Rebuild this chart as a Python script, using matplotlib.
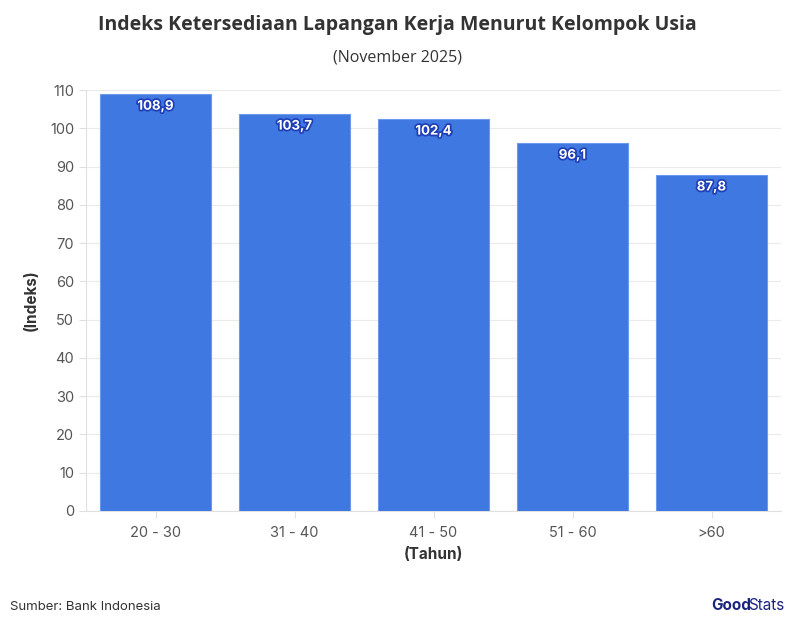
import matplotlib
matplotlib.use("Agg")
import matplotlib.pyplot as plt
import matplotlib.patheffects as pe

# data
kelompok = ["20 - 30", "31 - 40", "41 - 50", "51 - 60", ">60"]
indeks = [108.9, 103.7, 102.4, 96.1, 87.8]
label_teks = ["108,9", "103,7", "102,4", "96,1", "87,8"]
yticks = list(range(0, 111, 10))

plt.rcParams['font.family'] = ['Inter', 'DejaVu Sans']

fig = plt.figure(figsize=(7.95, 6.37), dpi=100)
ax = fig.add_axes([86/795, 1 - 511/637, 695/795, 421/637])

x = range(len(kelompok))
bars = ax.bar(x, indeks, width=0.805, color="#3f78e0", edgecolor="#6d99ea",
              linewidth=0.8, zorder=3)

for b, t in zip(bars, label_teks):
    ax.annotate(t, (b.get_x() + b.get_width()/2, b.get_height()),
                xytext=(0, -9), textcoords="offset points", ha="center", va="center",
                color="white", fontsize=9.5, fontweight="bold", zorder=4,
                path_effects=[pe.withStroke(linewidth=2.5, foreground="#1f3fb8")])

ax.set_xlim(-0.5, len(kelompok) - 0.5)
ax.set_ylim(0, 110)
ax.set_yticks(yticks)
ax.set_xticks(list(x))
ax.set_xticklabels(kelompok)
ax.grid(axis="y", color="#ebebeb", linewidth=0.8, zorder=0)
for s in ["top", "right"]:
    ax.spines[s].set_visible(False)
for s in ["left", "bottom"]:
    ax.spines[s].set_color("#e0e0e0")
ax.tick_params(axis="both", colors="#e0e0e0", labelcolor="#555555", labelsize=10.5, length=5)
ax.tick_params(axis="x", pad=6)

ax.set_ylabel("(Indeks)", fontsize=11, fontweight="bold", color="#333333", labelpad=8)
ax.set_xlabel("(Tahun)", fontsize=11, fontweight="bold", color="#333333", labelpad=5)

fig.text(0.5, 1 - 25/637, "Indeks Ketersediaan Lapangan Kerja Menurut Kelompok Usia",
         ha="center", va="center", fontsize=14, fontweight="bold", color="#333333",
         family=["Open Sans", "DejaVu Sans"])
fig.text(0.5, 1 - 57/637, "(November 2025)", ha="center", va="center",
         fontsize=11.5, color="#333333", family=["Open Sans", "DejaVu Sans"])
fig.text(10/795, 1 - 607/637, "Sumber: Bank Indonesia", ha="left", va="center",
         fontsize=9.5, color="#333333")
fig.text(711/795, 1 - 606/637, "Good", ha="left", va="center", fontsize=11,
         fontweight="bold", color="#1a237e")
fig.text(748/795, 1 - 606/637, "Stats", ha="left", va="center", fontsize=11,
         color="#1a237e")

fig.savefig("out.png", dpi=100)
